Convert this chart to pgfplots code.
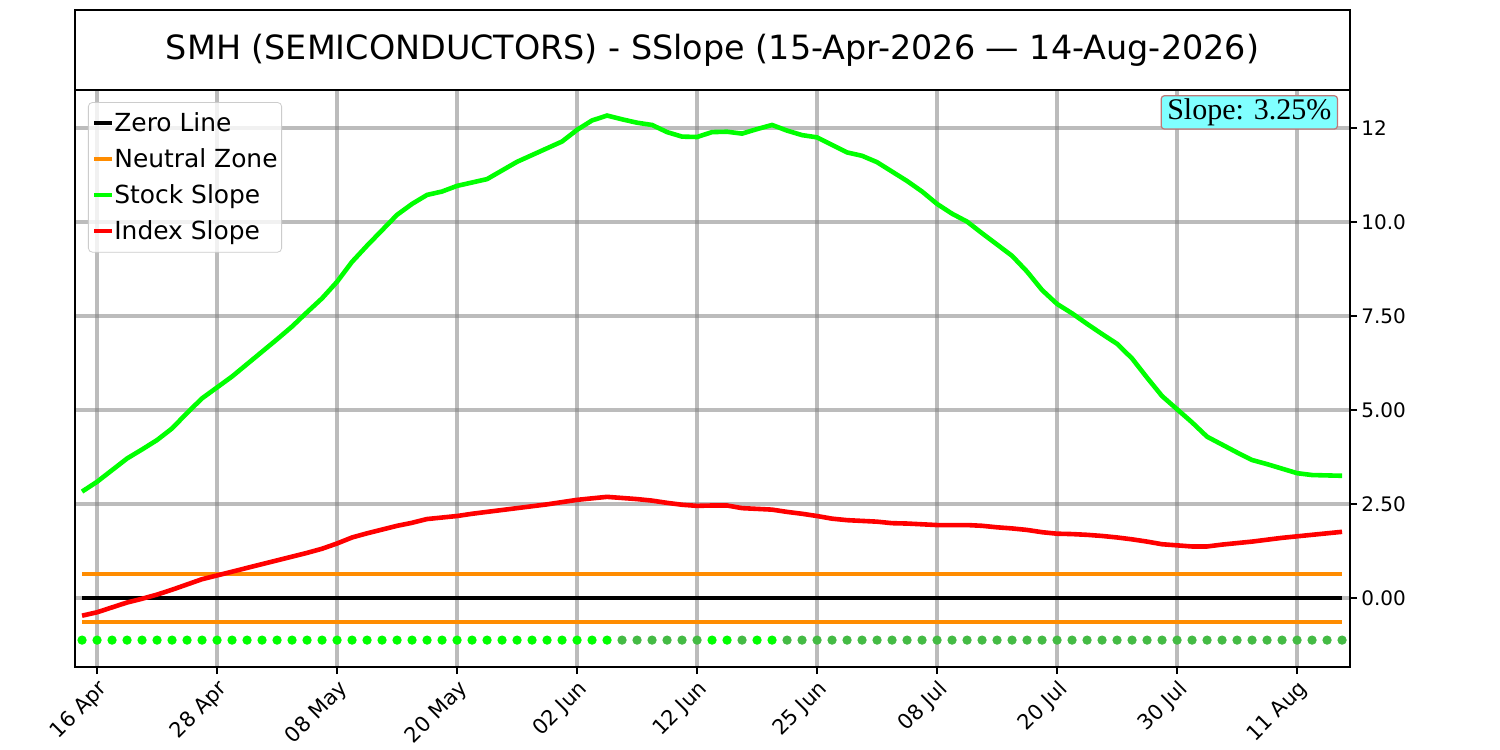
\documentclass[border=0pt]{standalone}
\usepackage{fontspec}
\setmainfont{DejaVu Sans}
\newfontfamily\timesf{Liberation Serif}
\usepackage{pgfplots}
\usepackage{pgfplotstable}
\pgfplotsset{compat=1.18}
\definecolor{stockgreen}{RGB}{0,255,0}
\definecolor{idxred}{RGB}{255,0,0}
\definecolor{nzorange}{RGB}{255,140,0}
\definecolor{dotdark}{RGB}{68,187,68}
\definecolor{slopecyan}{RGB}{128,255,255}
\definecolor{slopeedge}{RGB}{190,120,120}
\pgfplotstableread{
x y
0 2.83
1 3.09
2 3.40
3 3.71
4 3.95
5 4.20
6 4.51
7 4.92
8 5.31
9 5.60
10 5.89
11 6.22
12 6.55
13 6.88
14 7.22
15 7.60
16 7.97
17 8.41
18 8.94
19 9.37
20 9.78
21 10.19
22 10.48
23 10.72
24 10.81
25 10.96
26 11.05
27 11.14
28 11.37
29 11.60
30 11.78
31 11.96
32 12.14
33 12.45
34 12.70
35 12.83
36 12.73
37 12.64
38 12.58
39 12.39
40 12.27
41 12.26
42 12.39
43 12.40
44 12.35
45 12.47
46 12.58
47 12.43
48 12.31
49 12.25
50 12.05
51 11.85
52 11.76
53 11.59
54 11.34
55 11.09
56 10.81
57 10.48
58 10.22
59 10.01
60 9.70
61 9.40
62 9.10
63 8.68
64 8.19
65 7.82
66 7.57
67 7.29
68 7.02
69 6.76
70 6.37
71 5.86
72 5.37
73 5.02
74 4.67
75 4.29
76 4.08
77 3.87
78 3.67
79 3.56
80 3.44
81 3.32
82 3.27
83 3.26
84 3.25
}\stocktable
\pgfplotstableread{
x y
0 -0.47
1 -0.38
2 -0.25
3 -0.12
4 -0.02
5 0.09
6 0.22
7 0.36
8 0.50
9 0.60
10 0.70
11 0.80
12 0.90
13 1.00
14 1.10
15 1.20
16 1.31
17 1.45
18 1.61
19 1.72
20 1.82
21 1.92
22 2.00
23 2.10
24 2.14
25 2.18
26 2.24
27 2.29
28 2.34
29 2.39
30 2.44
31 2.49
32 2.55
33 2.61
34 2.65
35 2.69
36 2.66
37 2.63
38 2.59
39 2.53
40 2.48
41 2.45
42 2.46
43 2.46
44 2.39
45 2.37
46 2.35
47 2.29
48 2.24
49 2.18
50 2.11
51 2.07
52 2.05
53 2.03
54 1.99
55 1.98
56 1.96
57 1.94
58 1.94
59 1.94
60 1.92
61 1.88
62 1.85
63 1.81
64 1.75
65 1.71
66 1.70
67 1.68
68 1.65
69 1.61
70 1.56
71 1.50
72 1.43
73 1.40
74 1.37
75 1.37
76 1.42
77 1.46
78 1.50
79 1.55
80 1.60
81 1.64
82 1.68
83 1.72
84 1.76
}\indextable
\begin{document}
\begin{tikzpicture}
\path[use as bounding box] (0,0) rectangle (750pt,375pt);
\fill[white] (0,0) rectangle (750pt,375pt);
\draw[line width=0.75pt] (37.5pt,330pt) rectangle (675pt,370pt);
\node[font=\fontsize{16.7}{20}\selectfont] at (356.25pt,350pt) {SMH (SEMICONDUCTORS) - SSlope (15-Apr-2026 — 14-Aug-2026)};
\begin{axis}[
  at={(37.5pt,41.5pt)}, anchor=south west,
  scale only axis, width=637.5pt, height=288.5pt,
  xmin=-0.47, xmax=84.53, ymin=-1.835, ymax=13.51,
  axis line style={line width=0.75pt, black},
  xtick={1,9,17,25,33,41,49,57,65,73,81},
  xticklabels={16 Apr,28 Apr,08 May,20 May,02 Jun,12 Jun,25 Jun,08 Jul,20 Jul,30 Jul,11 Aug},
  ytick={0,2.5,5,7.5,10,12.5},
  yticklabels={0.00,2.50,5.00,7.50,10.0,12},
  xtick pos=bottom, ytick pos=right, yticklabel pos=right,
  tick align=outside, major tick length=3.5pt,
  tick style={line width=0.6pt, black},
  grid=major, major grid style={line width=1.6pt, gray, opacity=0.52},
  xticklabel style={rotate=45, anchor=north east, font=\fontsize{10.5}{12.5}\selectfont, inner sep=1.5pt},
  yticklabel style={font=\fontsize{10}{12}\selectfont, anchor=west, inner sep=2pt},
  legend cell align=left,
  legend image code/.code={\draw[#1, line width=2pt] (0pt,0pt) -- (9pt,0pt);},
  legend style={at={(0.0102,0.979)}, anchor=north west, draw=black!20, rounded corners=2pt,
    fill=white, fill opacity=0.8, text opacity=1, draw opacity=1,
    font=\fontsize{12.45}{15}\selectfont, inner xsep=2pt, inner ysep=3pt,
    row sep=3pt, nodes={inner xsep=0pt}},
]
\addplot[black, line width=2pt] coordinates {(0,0) (84,0)};
\addlegendentry{Zero Line}
\addplot[nzorange, line width=2pt] coordinates {(0,0.64) (84,0.64)};
\addlegendentry{Neutral Zone}
\addplot[nzorange, line width=2pt, forget plot] coordinates {(0,-0.64) (84,-0.64)};
\addplot[stockgreen, line width=2.3pt] table[x=x,y=y] {\stocktable};
\addlegendentry{Stock Slope}
\addplot[idxred, line width=2.3pt] table[x=x,y=y] {\indextable};
\addlegendentry{Index Slope}
\addplot[only marks, mark=*, mark size=2.1pt, color=stockgreen, mark options={draw=stockgreen, fill=stockgreen}, forget plot] coordinates {
(0,-1.12) (1,-1.12) (2,-1.12) (3,-1.12) (4,-1.12) (5,-1.12) (6,-1.12) (7,-1.12) (8,-1.12) (9,-1.12)
(10,-1.12) (11,-1.12) (12,-1.12) (13,-1.12) (14,-1.12) (15,-1.12) (16,-1.12) (17,-1.12) (18,-1.12) (19,-1.12)
(20,-1.12) (21,-1.12) (22,-1.12) (23,-1.12) (24,-1.12) (25,-1.12) (26,-1.12) (27,-1.12) (28,-1.12) (29,-1.12)
(30,-1.12) (31,-1.12) (32,-1.12) (33,-1.12) (34,-1.12) (35,-1.12) (42,-1.12) (43,-1.12) (45,-1.12) (46,-1.12)};
\addplot[only marks, mark=*, mark size=2.1pt, color=dotdark, mark options={draw=dotdark, fill=dotdark}, forget plot] coordinates {
(36,-1.12) (37,-1.12) (38,-1.12) (39,-1.12) (40,-1.12) (41,-1.12) (44,-1.12)
(47,-1.12) (48,-1.12) (49,-1.12) (50,-1.12) (51,-1.12) (52,-1.12) (53,-1.12) (54,-1.12) (55,-1.12) (56,-1.12)
(57,-1.12) (58,-1.12) (59,-1.12) (60,-1.12) (61,-1.12) (62,-1.12) (63,-1.12) (64,-1.12) (65,-1.12) (66,-1.12)
(67,-1.12) (68,-1.12) (69,-1.12) (70,-1.12) (71,-1.12) (72,-1.12) (73,-1.12) (74,-1.12) (75,-1.12) (76,-1.12)
(77,-1.12) (78,-1.12) (79,-1.12) (80,-1.12) (81,-1.12) (82,-1.12) (83,-1.12) (84,-1.12)};
\node[anchor=north east, fill=slopecyan, draw=slopeedge, line width=0.6pt, rounded corners=1.5pt,
  font=\timesf\fontsize{15}{18}\selectfont, inner xsep=3pt, inner ysep=1.5pt]
  at (rel axis cs:0.9906,0.991) {Slope: 3.25\%};
\end{axis}
\end{tikzpicture}
\end{document}
